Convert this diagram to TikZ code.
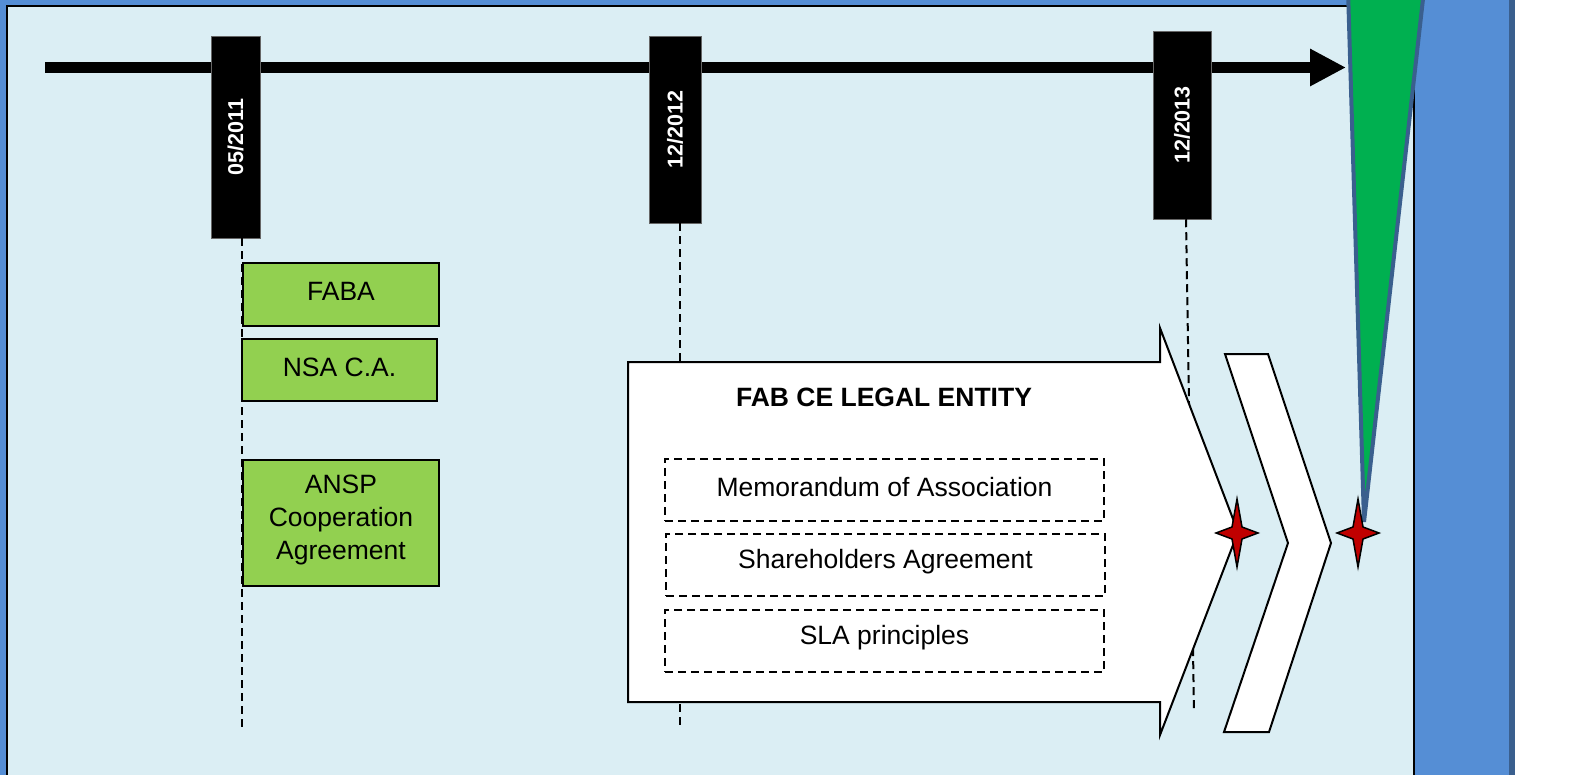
\documentclass[tikz,border=0pt]{standalone}
\usepackage{fontspec}
\setmainfont{Liberation Sans}
\usetikzlibrary{arrows.meta}
\definecolor{outerblue}{HTML}{558ED5}
\definecolor{edgeblue}{HTML}{3A5F8E}
\definecolor{panelblue}{HTML}{DBEEF4}
\definecolor{boxgreen}{HTML}{92D050}
\definecolor{wedgegreen}{HTML}{00B050}
\definecolor{starred}{HTML}{C00000}
\tikzset{
  marker/.style={fill=black, draw=black!60, line width=0.5pt, inner sep=0pt, text=white,
    font=\fontsize{21.5}{25}\selectfont\bfseries},
  guideline/.style={draw=black, line width=2pt, dash pattern=on 8pt off 5pt},
  greenbox/.style={fill=boxgreen, draw=black, line width=2pt, inner sep=0pt,
    minimum width=196pt},
  docbox/.style={draw=black, line width=2pt, dash pattern=on 8pt off 5pt, inner sep=0pt,
    minimum width=439pt, minimum height=62pt},
  label26/.style={align=center, font=\fontsize{26.5}{33}\selectfont},
  shapeline/.style={fill=white, draw=black, line width=2pt, line join=miter},
  starshape/.style={fill=starred, draw=black, line width=1.5pt, line join=miter},
}
\begin{document}
\begin{tikzpicture}[x=1pt,y=-1pt]
\useasboundingbox (0,0) rectangle (1594,775);
\clip (0,0) rectangle (1594,775);
% background
\fill[outerblue] (0,0) rectangle (1509,775);
\fill[edgeblue] (1509,0) rectangle (1515,775);
\fill[panelblue] (7,6) rectangle (1414,780);
\draw[black, line width=2.5pt] (7,780) -- (7,6) -- (1414,6) -- (1414,780);

% timeline
\coordinate (tl0) at (45,67.5);
\coordinate (tl1) at (1346,67.5);
\draw[line width=11.5pt, -{Triangle[length=36pt, width=35pt]}] (tl0) -- (tl1);

% date markers
\node[marker, minimum width=49pt, minimum height=202pt] (m1) at (235.5,137) {\rotatebox{90}{05/2011}};
\node[marker, minimum width=52pt, minimum height=187pt] (m2) at (675,129.5) {\rotatebox{90}{12/2012}};
\node[marker, minimum width=58pt, minimum height=188pt] (m3) at (1182,125) {\rotatebox{90}{12/2013}};

% guide lines
\coordinate (m1e) at (242,732);
\coordinate (m2e) at (680,727);
\coordinate (m3e) at (1194,712);
\draw[guideline] ([xshift=6.5pt]m1.south) -- (m1e);
\draw[guideline] ([xshift=5pt]m2.south) -- (m2e);
\draw[guideline] ([xshift=4pt]m3.south) -- (m3e);

% green boxes
\node[greenbox, minimum height=63pt] (faba) at (341,294.5) {};
\node[label26] (fabat) at ([yshift=3.5pt]faba.center) {FABA};
\node[greenbox, minimum width=195pt, minimum height=62pt] (nsa) at (339.5,370) {};
\node[label26] (nsat) at ([yshift=3pt]nsa.center) {NSA C.A.};
\node[greenbox, minimum height=126pt] (ansp) at (341,523) {};
\node[label26] (anspt) at ([yshift=3pt]ansp.center) {ANSP\\Cooperation\\Agreement};

% big arrow
\draw[shapeline] (628,362) -- (1160,362) -- (1160,328) -- (1238,532) -- (1160,735)
  -- (1160,702) -- (628,702) -- cycle;
% chevron
\draw[shapeline] (1225,354) -- (1268,354) -- (1331,543) -- (1269,732) -- (1224,732)
  -- (1288,543) -- cycle;

% title and documents
\node[label26, font=\fontsize{26.5}{33}\selectfont\bfseries] (title) at (884,397) {FAB CE LEGAL ENTITY};
\node[docbox] (mem) at (884.5,490) {};
\node[label26] (memt) at ([yshift=3pt]mem.center) {Memorandum of Association};
\node[docbox] (sha) at (885.5,565) {};
\node[label26] (shat) at ([yshift=3pt]sha.center) {Shareholders Agreement};
\node[docbox] (sla) at (884.5,641) {};
\node[label26] (slat) at ([yshift=3pt]sla.center) {SLA principles};

% green wedge
\draw[fill=wedgegreen, draw=edgeblue, line width=4pt, line join=miter]
  (1348,-10) -- (1424,-10) -- (1364,522) -- cycle;

% stars
\draw[starshape, shift={(1237,533)}] (0,-34) -- (5,-6) -- (21,0) -- (5,6) -- (0,34)
  -- (-5,6) -- (-21,0) -- (-5,-6) -- cycle;
\draw[starshape, shift={(1358,533)}] (0,-34) -- (5,-6) -- (21,0) -- (5,6) -- (0,34)
  -- (-5,6) -- (-21,0) -- (-5,-6) -- cycle;
\end{tikzpicture}
\end{document}
